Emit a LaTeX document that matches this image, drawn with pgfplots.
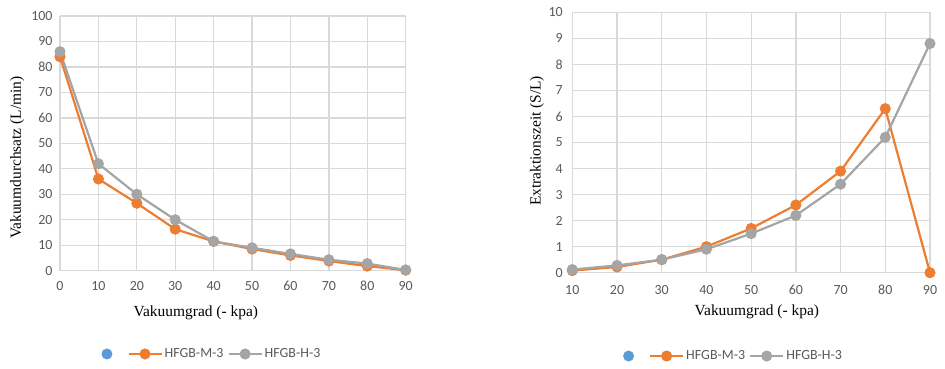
\documentclass[border=0pt]{standalone}
\usepackage{pgfplots}
\pgfplotsset{compat=1.18}
\usepackage{fontspec}
\setmainfont{Liberation Serif}
\newfontfamily\tickfont{Carlito}
\definecolor{xlorange}{HTML}{ED7D31}
\definecolor{xlgray}{HTML}{A5A5A5}
\definecolor{xlblue}{HTML}{5B9BD5}
\definecolor{gridc}{HTML}{D9D9D9}
\definecolor{tickc}{HTML}{595959}
\pgfplotsset{
  excel/.style={
    scale only axis,
    clip=false,
    axis line style={draw=none},
    major tick style={draw=none},
    grid=major,
    major grid style={draw=gridc, line width=1.3bp},
    /pgf/number format/assume math mode=true,
    ticklabel style={font=\tickfont\fontsize{14}{14}\selectfont, text=tickc},
    yticklabel style={xshift=-4bp},
    label style={font=\fontsize{15.5}{16}\selectfont, text=black},
    every axis plot/.append style={line width=2.2bp, mark=*, mark size=4.4bp},
    legend style={draw=none, fill=none, legend columns=-1,
      font=\tickfont\fontsize{14}{14}\selectfont, text=tickc,
      /tikz/every even column/.append style={column sep=2bp}},
    legend image code/.code={\draw[mark repeat=2,mark phase=2,##1] plot coordinates {(0bp,0bp) (16.5bp,0bp) (33bp,0bp)};},
  },
  dotlegend/.style={legend image code/.code={\path[draw=none] (0bp,0bp) (23bp,0bp); \draw[##1] plot coordinates {(8.5bp,0bp)};}},
}
\begin{document}
\begin{tikzpicture}
\useasboundingbox (0,0) rectangle (945bp,369bp);
% Left chart
\begin{axis}[excel,
  at={(60bp,98.3bp)}, anchor=south west,
  width=345.7bp, height=254.7bp,
  xmin=0, xmax=90, ymin=0, ymax=100,
  xtick={0,10,...,90}, ytick={0,10,...,100},
  xticklabel style={yshift=-7bp},
  xlabel={Vakuumgrad (- kpa)},
  ylabel={Vakuumdurchsatz (L/min)},
  xlabel style={at={(rel axis cs:0.393,-0.165)}, anchor=center},
  ylabel style={at={(rel axis cs:-0.124,0.444)}, anchor=center, rotate=0},
  legend style={at={(rel axis cs:0.102,-0.327)}, anchor=west},
]
\addlegendimage{only marks, mark=*, mark size=4.3bp, color=xlblue, dotlegend}
\addlegendentry{}
\addplot[color=xlorange] coordinates {(0,84) (10,36) (20,26.5) (30,16.3) (40,11.5) (50,8.5) (60,6) (70,3.8) (80,1.8) (90,0.2)};
\addlegendentry{HFGB-M-3}
\addplot[color=xlgray] coordinates {(0,86) (10,42) (20,30) (30,20) (40,11.5) (50,9) (60,6.6) (70,4.3) (80,2.8) (90,0.3)};
\addlegendentry{HFGB-H-3}
\end{axis}
% Right chart
\begin{axis}[excel,
  at={(572.3bp,96.3bp)}, anchor=south west,
  width=357.7bp, height=260.4bp,
  xmin=10, xmax=90, ymin=0, ymax=10,
  xtick={10,20,...,90}, ytick={0,1,...,10},
  xticklabel style={yshift=-9bp},
  yticklabel style={xshift=-2bp},
  xlabel={Vakuumgrad (- kpa)},
  ylabel={Extraktionszeit (S/L)},
  xlabel style={at={(rel axis cs:0.516,-0.151)}, anchor=center},
  ylabel style={at={(rel axis cs:-0.099,0.506)}, anchor=center, rotate=0},
  legend style={at={(rel axis cs:0.1246,-0.32)}, anchor=west},
]
\addlegendimage{only marks, mark=*, mark size=4.3bp, color=xlblue, dotlegend}
\addlegendentry{}
\addplot[color=xlorange] coordinates {(10,0.08) (20,0.22) (30,0.5) (40,1.0) (50,1.7) (60,2.6) (70,3.9) (80,6.3) (90,0.0)};
\addlegendentry{HFGB-M-3}
\addplot[color=xlgray] coordinates {(10,0.12) (20,0.28) (30,0.5) (40,0.9) (50,1.5) (60,2.2) (70,3.4) (80,5.2) (90,8.8)};
\addlegendentry{HFGB-H-3}
\end{axis}
\end{tikzpicture}
\end{document}
